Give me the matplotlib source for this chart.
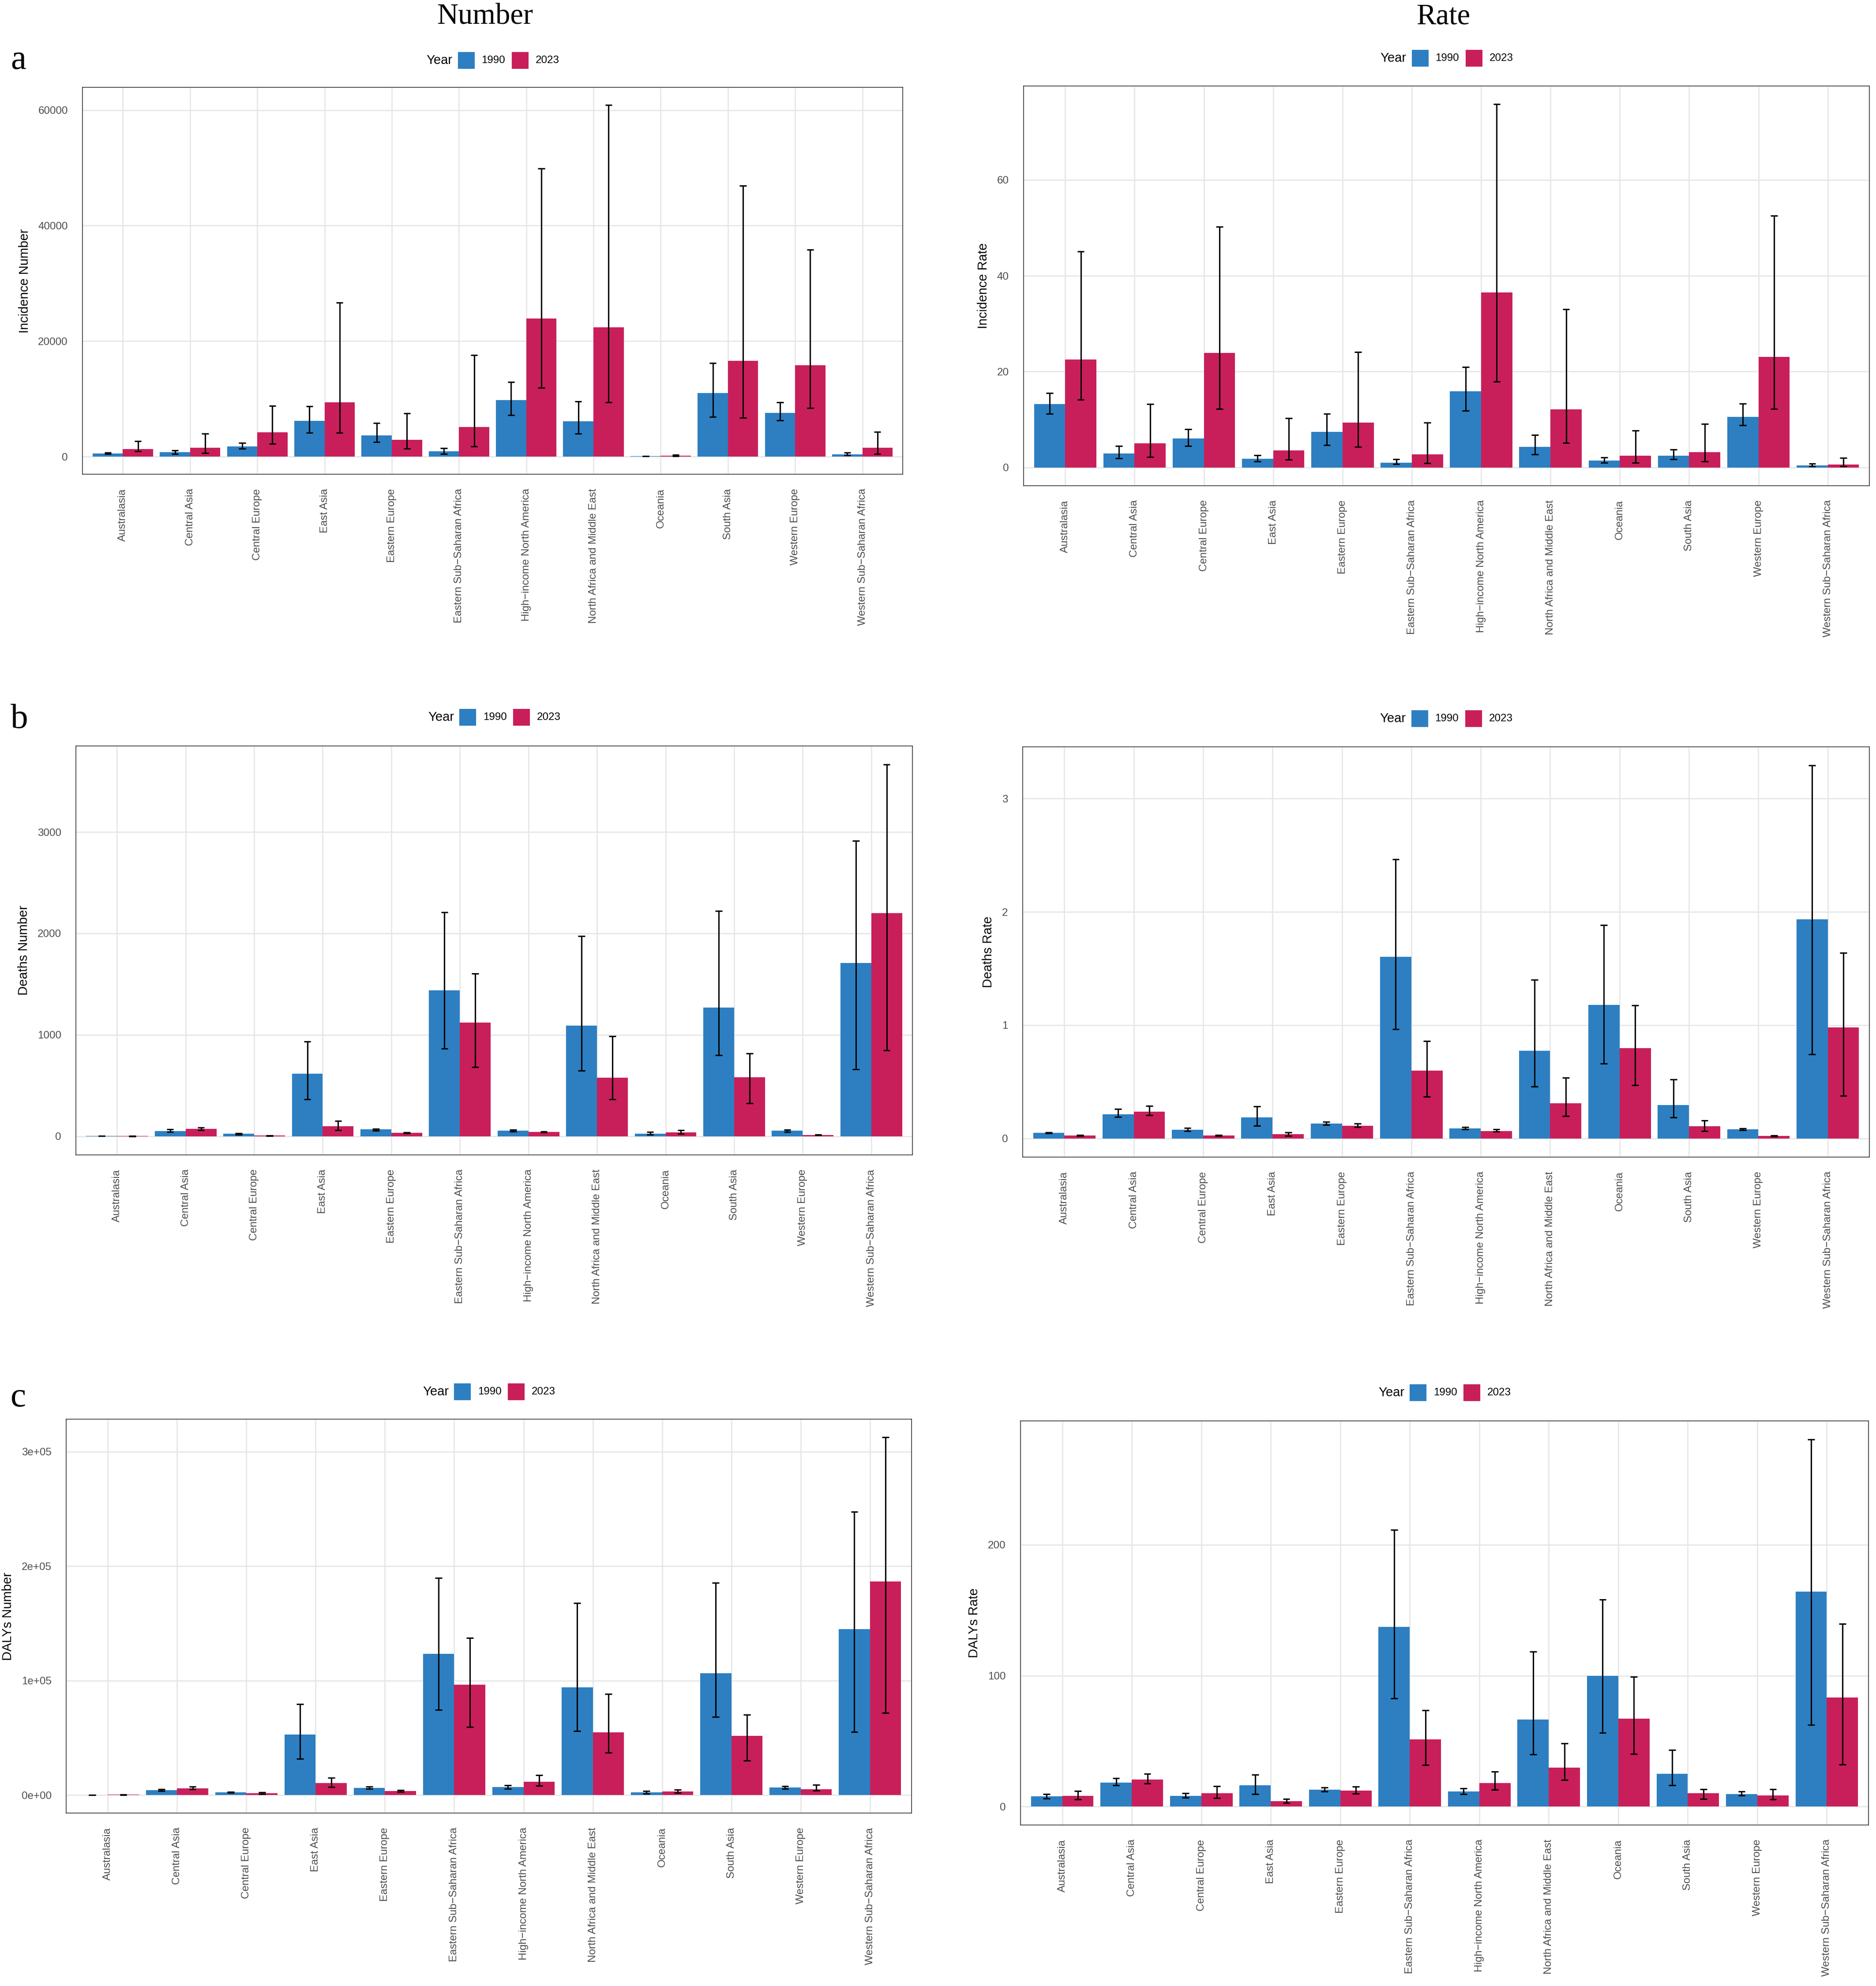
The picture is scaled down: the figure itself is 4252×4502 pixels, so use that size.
import numpy as np
import matplotlib

matplotlib.use("Agg")
import matplotlib.pyplot as plt
from matplotlib.patches import Rectangle

plt.rcParams["font.family"] = ["Liberation Sans", "DejaVu Sans"]

regions = [
    "Australasia",
    "Central Asia",
    "Central Europe",
    "East Asia",
    "Eastern Europe",
    "Eastern Sub\u2212Saharan Africa",
    "High\u2212income North America",
    "North Africa and Middle East",
    "Oceania",
    "South Asia",
    "Western Europe",
    "Western Sub\u2212Saharan Africa",
]
years = ["1990", "2023"]

# Incidence number
inc_num_1990 = [550, 800, 1800, 6200, 3700, 950, 9800, 6100, 80, 11000, 7600, 400]
inc_num_1990_lo = [450, 450, 1400, 4150, 2500, 500, 7200, 3950, 50, 6900, 6300, 250]
inc_num_1990_hi = [700, 1100, 2400, 8700, 5850, 1460, 12900, 9550, 120, 16200, 9400, 700]
inc_num_2023 = [1300, 1530, 4200, 9400, 2900, 5100, 23900, 22400, 200, 16600, 15800, 1550]
inc_num_2023_lo = [900, 650, 2200, 4150, 1400, 1750, 11900, 9400, 80, 6700, 8400, 500]
inc_num_2023_hi = [2700, 3950, 8800, 26700, 7500, 17600, 49900, 60900, 350, 46900, 35800, 4300]

# Incidence rate
inc_rate_1990 = [13.2, 2.9, 6.1, 1.8, 7.4, 1.0, 15.9, 4.3, 1.5, 2.5, 10.6, 0.45]
inc_rate_1990_lo = [11.2, 1.9, 4.5, 1.3, 4.7, 0.7, 11.9, 2.7, 1.0, 1.7, 8.8, 0.3]
inc_rate_1990_hi = [15.5, 4.5, 8.0, 2.6, 11.2, 1.7, 21.0, 6.8, 2.1, 3.8, 13.3, 0.8]
inc_rate_2023 = [22.5, 5.0, 23.9, 3.6, 9.4, 2.7, 36.5, 12.1, 2.5, 3.2, 23.1, 0.65]
inc_rate_2023_lo = [14.2, 2.2, 12.2, 1.6, 4.3, 0.9, 17.9, 5.1, 1.0, 1.3, 12.2, 0.25]
inc_rate_2023_hi = [45.1, 13.2, 50.2, 10.3, 24.1, 9.4, 75.8, 33.0, 7.7, 9.1, 52.5, 2.0]

# Deaths number
death_num_1990 = [3, 50, 25, 615, 67, 1437, 55, 1090, 27, 1270, 55, 1709]
death_num_1990_lo = [2, 45, 17, 363, 58, 865, 48, 648, 15, 798, 45, 660]
death_num_1990_hi = [5, 70, 32, 935, 75, 2210, 65, 1972, 45, 2220, 65, 2913]
death_num_2023 = [2, 75, 6, 100, 33, 1120, 42, 577, 40, 580, 14, 2202]
death_num_2023_lo = [1, 60, 4, 62, 30, 681, 37, 363, 25, 326, 11, 848]
death_num_2023_hi = [3, 85, 8, 150, 40, 1605, 48, 986, 60, 819, 17, 3665]

# Deaths rate
death_rate_1990 = [0.049, 0.213, 0.075, 0.184, 0.131, 1.603, 0.090, 0.772, 1.180, 0.296, 0.082, 1.933]
death_rate_1990_lo = [0.044, 0.190, 0.066, 0.110, 0.120, 0.966, 0.079, 0.460, 0.660, 0.187, 0.071, 0.742]
death_rate_1990_hi = [0.055, 0.260, 0.093, 0.285, 0.146, 2.464, 0.100, 1.400, 1.884, 0.520, 0.090, 3.292]
death_rate_2023 = [0.026, 0.236, 0.026, 0.037, 0.112, 0.599, 0.067, 0.311, 0.798, 0.109, 0.022, 0.981]
death_rate_2023_lo = [0.022, 0.205, 0.022, 0.022, 0.100, 0.367, 0.060, 0.198, 0.472, 0.064, 0.019, 0.378]
death_rate_2023_hi = [0.030, 0.288, 0.030, 0.055, 0.130, 0.861, 0.080, 0.536, 1.176, 0.157, 0.026, 1.640]

# DALYs number
daly_num_1990 = [200, 4300, 2500, 53000, 6400, 123500, 7100, 94000, 2500, 106400, 6800, 145200]
daly_num_1990_lo = [150, 3600, 2100, 31700, 5700, 74400, 5700, 56200, 1400, 68300, 5700, 55200]
daly_num_1990_hi = [300, 5300, 2900, 79700, 7500, 189700, 8500, 167600, 3600, 185400, 7800, 247700]
daly_num_2023 = [400, 6000, 1800, 10700, 3600, 96400, 11700, 54800, 3400, 51600, 5300, 186800]
daly_num_2023_lo = [250, 5000, 1100, 7100, 2800, 59400, 8200, 37000, 2100, 30200, 3900, 71900]
daly_num_2023_hi = [600, 7500, 2600, 15000, 4300, 137400, 17400, 88300, 4600, 70100, 8900, 312800]

# DALYs rate
daly_rate_1990 = [7.8, 18.4, 8.1, 16.2, 12.8, 137.2, 11.5, 66.6, 99.8, 24.9, 9.6, 164.2]
daly_rate_1990_lo = [6.2, 16.2, 6.8, 9.6, 11.5, 82.7, 9.6, 39.8, 56.3, 16.2, 8.4, 62.5]
daly_rate_1990_hi = [9.6, 21.8, 10.3, 24.3, 14.6, 211.5, 14.0, 118.5, 158.3, 43.2, 11.5, 280.6]
daly_rate_2023 = [8.1, 20.8, 10.3, 4.0, 12.1, 51.3, 18.0, 29.9, 67.2, 10.3, 8.4, 83.4]
daly_rate_2023_lo = [5.6, 17.7, 6.5, 2.8, 10.0, 31.7, 12.8, 20.5, 40.1, 5.9, 5.6, 32.0]
daly_rate_2023_hi = [11.8, 25.2, 15.6, 5.9, 15.2, 73.7, 26.7, 48.2, 99.2, 13.4, 13.1, 139.7]

# y ticks
inc_num_ticks = [0, 20000, 40000, 60000]
inc_num_ticklabels = ["0", "20000", "40000", "60000"]
inc_rate_ticks = [0, 20, 40, 60]
inc_rate_ticklabels = ["0", "20", "40", "60"]
death_num_ticks = [0, 1000, 2000, 3000]
death_num_ticklabels = ["0", "1000", "2000", "3000"]
death_rate_ticks = [0, 1, 2, 3]
death_rate_ticklabels = ["0", "1", "2", "3"]
daly_num_ticks = [0, 100000, 200000, 300000]
daly_num_ticklabels = ["0e+00", "1e+05", "2e+05", "3e+05"]
daly_rate_ticks = [0, 100, 200]
daly_rate_ticklabels = ["0", "100", "200"]

BLUE = "#2D7FC1"
RED = "#C81F5B"
W, H = 4252, 4502
DPI = 300

fig = plt.figure(figsize=(W / DPI, H / DPI), dpi=DPI)


def fx(px):
    return px / W


def fy(py):
    return 1 - py / H


def add_axes(left, top, right, bottom):
    return fig.add_axes([fx(left), fy(bottom), (right - left) / W, (bottom - top) / H])


def draw_panel(ax, v90, lo90, hi90, v23, lo23, hi23, ylabel, ticks, ticklabels):
    x = np.arange(len(regions))
    bw = 0.45
    ax.bar(x - bw / 2, v90, width=bw, color=BLUE, zorder=2)
    ax.bar(x + bw / 2, v23, width=bw, color=RED, zorder=2)

    # error bars like geom_errorbar(width = 0.1)
    for off, lo, hi in ((-bw / 2, lo90, hi90), (bw / 2, lo23, hi23)):
        xe = x + off
        ax.vlines(xe, lo, hi, color="black", linewidth=0.75, zorder=3)
        ax.hlines(lo, xe - 0.05, xe + 0.05, color="black", linewidth=0.75, zorder=3)
        ax.hlines(hi, xe - 0.05, xe + 0.05, color="black", linewidth=0.75, zorder=3)

    top = max(max(hi90), max(hi23))
    ax.set_ylim(-0.05 * top, 1.05 * top)
    ax.set_xlim(-0.6, len(regions) - 0.4)

    ax.set_xticks(x)
    ax.set_xticklabels(regions, rotation=90, ha="center", va="top")
    ax.set_yticks(ticks)
    ax.set_yticklabels(ticklabels)
    ax.tick_params(axis="both", length=0, labelsize=5.8, labelcolor="#4D4D4D")
    ax.tick_params(axis="x", pad=7.8)
    ax.tick_params(axis="y", pad=8)
    ax.set_ylabel(ylabel, fontsize=7, color="black", labelpad=4)

    ax.set_axisbelow(True)
    ax.grid(True, color="#E6E6E6", linewidth=0.65, zorder=0)
    for s in ax.spines.values():
        s.set_color("#333333")
        s.set_linewidth(0.4)


def draw_legend(cx, cy):
    # "Year" title + two square keys, as in ggplot's top legend
    fig.text(fx(cx - 150), fy(cy), "Year", fontsize=7, ha="left", va="center")
    ks = 38
    for k, (col, lab) in enumerate(zip([BLUE, RED], years)):
        x0 = cx - 79 + k * 122
        fig.add_artist(
            Rectangle(
                (fx(x0), fy(cy + ks / 2)),
                ks / W,
                ks / H,
                transform=fig.transFigure,
                facecolor=col,
                edgecolor="none",
            )
        )
        fig.text(fx(x0 + 54), fy(cy), lab, fontsize=5.8, ha="left", va="center")


panels = [
    ((187, 198, 2046, 1075), inc_num_1990, inc_num_1990_lo, inc_num_1990_hi,
     inc_num_2023, inc_num_2023_lo, inc_num_2023_hi, "Incidence Number",
     inc_num_ticks, inc_num_ticklabels, 137),
    ((2320, 195, 4237, 1101), inc_rate_1990, inc_rate_1990_lo, inc_rate_1990_hi,
     inc_rate_2023, inc_rate_2023_lo, inc_rate_2023_hi, "Incidence Rate",
     inc_rate_ticks, inc_rate_ticklabels, 132),
    ((172, 1691, 2068, 2618), death_num_1990, death_num_1990_lo, death_num_1990_hi,
     death_num_2023, death_num_2023_lo, death_num_2023_hi, "Deaths Number",
     death_num_ticks, death_num_ticklabels, 1626),
    ((2318, 1693, 4237, 2623), death_rate_1990, death_rate_1990_lo, death_rate_1990_hi,
     death_rate_2023, death_rate_2023_lo, death_rate_2023_hi, "Deaths Rate",
     death_rate_ticks, death_rate_ticklabels, 1629),
    ((150, 3217, 2066, 4110), daly_num_1990, daly_num_1990_lo, daly_num_1990_hi,
     daly_num_2023, daly_num_2023_lo, daly_num_2023_hi, "DALYs Number",
     daly_num_ticks, daly_num_ticklabels, 3155),
    ((2313, 3221, 4235, 4137), daly_rate_1990, daly_rate_1990_lo, daly_rate_1990_hi,
     daly_rate_2023, daly_rate_2023_lo, daly_rate_2023_hi, "DALYs Rate",
     daly_rate_ticks, daly_rate_ticklabels, 3157),
]

for rect, v90, lo90, hi90, v23, lo23, hi23, ylab, ticks, tlabs, leg_y in panels:
    ax = add_axes(*rect)
    draw_panel(ax, v90, lo90, hi90, v23, lo23, hi23, ylab, ticks, tlabs)
    draw_legend((rect[0] + rect[2]) / 2, leg_y)

# column titles and panel letters
serif = ["Liberation Serif", "DejaVu Serif"]
fig.text(fx(1099), fy(38), "Number", family=serif, fontsize=16, ha="center", va="center")
fig.text(fx(3271), fy(38), "Rate", family=serif, fontsize=16, ha="center", va="center")
for letter, ypx in (("a", 156), ("b", 1650), ("c", 3188)):
    fig.text(fx(24), fy(ypx), letter, family=serif, fontsize=19, ha="left", va="baseline")

fig.savefig("out.png", dpi=DPI, facecolor="white")
